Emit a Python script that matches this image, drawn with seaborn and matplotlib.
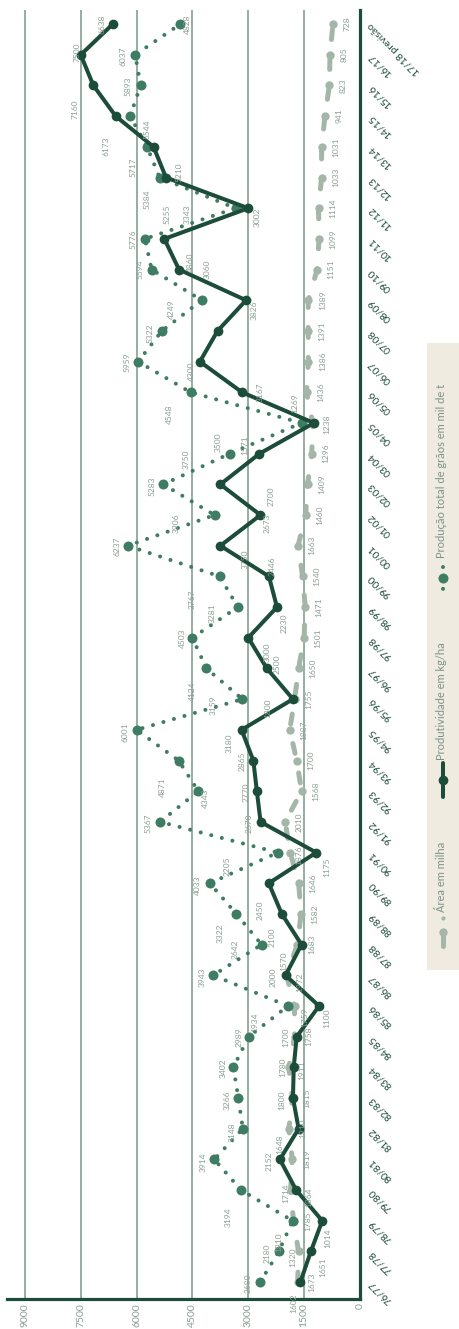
import matplotlib
matplotlib.use("Agg")
import matplotlib.pyplot as plt
from matplotlib.lines import Line2D
from matplotlib.patches import Rectangle
import seaborn as sns
import pandas as pd

# ---------------- data ----------------
categories = ['76/77', '77/78', '78/79', '79/80', '80/81', '81/82', '82/83', '83/84',
              '84/85', '85/86', '86/87', '87/88', '88/89', '89/90', '90/91', '91/92',
              '92/93', '93/94', '94/95', '95/96', '96/97', '97/98', '98/99', '99/00',
              '00/01', '01/02', '02/03', '03/04', '04/05', '05/06', '06/07', '07/08',
              '08/09', '09/10', '10/11', '11/12', '12/13', '13/14', '14/15', '15/16',
              '16/17', '17/18 previsão']

area = [1673, 1651, 1785, 1864, 1819, 1910, 1815, 1911, 1758, 1759, 1972, 1683, 1582, 1646,
        1876, 2010, 1568, 1700, 1887, 1755, 1650, 1501, 1471, 1540, 1663, 1460, 1409, 1296,
        1269, 1436, 1386, 1391, 1389, 1151, 1099, 1114, 1033, 1031, 941, 823, 805, 728]

productivity = [1602, 1320, 1014, 1714, 2152, 1648, 1800, 1780, 1700, 1100, 2000, 1570, 2100,
                2450, 1175, 2670, 2770, 2865, 3180, 1800, 2500, 3000, 2230, 2446, 3750, 2673,
                3750, 2700, 1238, 3167, 4300, 3826, 3060, 4860, 5255, 3002, 5210, 5544, 6560,
                7160, 7500, 6638]

production = [2680, 2180, 1810, 3194, 3914, 3148, 3266, 3402, 2989, 1934, 3943, 2642, 3322,
              4033, 2205, 5367, 4343, 4871, 6001, 3159, 4124, 4503, 3281, 3767, 6237, 3906,
              5283, 3500, 1571, 4548, 5959, 5322, 4249, 5594, 5776, 3343, 5384, 5717, 6173,
              5893, 6037, 4828]

value_ticks = [0, 1500, 3000, 4500, 6000, 7500, 9000]

legend_labels = ['Produção total de grãos em mil de t', 'Produtividade em kg/ha', 'Área em milha']

# ---------------- label placement (pixel offsets: right, down) ----------------
area_lbl_off = [(14, 0)] * len(categories)
for k, v in {28: (-18, -20), 14: (9, 3), 10: (13, 7), 9: (10, 11), 7: (13, 3),
             3: (18, 7), 1: (24, 16)}.items():
    area_lbl_off[k] = v

prodt_lbl_off = [(-7, 21), (-18, 6), (6, 17), (-10, 3), (-11, 2), (-19, 16), (-11, 2), (-11, 0),
                 (-11, 1), (8, 12), (-12, 2), (-18, 17), (-10, 23), (-9, 27), (11, 15), (-11, 1),
                 (-11, 1), (-11, 1), (-12, 13), (-25, 9), (10, -4), (19, 14), (7, 16), (3, -10),
                 (25, 14), (7, 8), (-34, -25), (12, 43), (13, 1), (18, 0), (-9, 10), (37, -21),
                 (-39, -31), (11, -7), (3, -25), (9, 9), (13, -5), (-6, -18), None, (-18, 24),
                 (-4, -3), (-11, 0)]

prodn_lbl_off = [(-12, 1), (-12, 2), (-14, 21), (-13, 27), (-11, 3), (-11, 4), (-11, 2), (-10, 1),
                 (-10, 1), (-33, 16), (-11, 2), (-26, 5), (-16, 19), (-12, 2), (-51, 14), (-12, 1),
                 (7, 7), (-16, 27), (-12, 2), (-29, 6), (-14, 23), (-10, 0), (-26, 6), (-28, 23),
                 (-11, 1), (-38, 8), (-11, 2), (-12, -11), (-57, 22), (-21, 22), (-11, 1), (-12, 2),
                 (-30, 9), (-12, 0), (-12, 0), (-48, 6), (-12, 22), (-14, 20), (-24, 30), (-12, 1),
                 (-12, 1), (7, 0)]

# ---------------- styles ----------------
DARK = '#1c4c3a'
MED = '#3e7c63'
LIGHT = '#a3b6a7'
GRID = '#8ea89b'
LBL = '#8a9f93'
LEG_BG = '#efebe0'
LEG_TXT = '#7b9386'

sns.set_theme(style='white')
plt.rcParams['font.family'] = ['Lato', 'DejaVu Sans']

W, H = 460, 1329
fig = plt.figure(figsize=(W / 100, H / 100), dpi=100)
fig.patch.set_facecolor('white')
ax = fig.add_axes([7 / W, 30 / H, 353 / W, 1289 / H])
ax.set_facecolor('white')

idx = list(range(len(categories)))
df = pd.DataFrame({'idx': idx, 'area': area, 'prodt': productivity, 'prodn': production})

# area: light dashed "pin" line
sns.lineplot(data=df, x='area', y='idx', orient='y', sort=False, estimator=None, ax=ax,
             color=LIGHT, lw=3.6, linestyle=(0, (2.0, 4.0)), dash_capstyle='round',
             marker='o', markersize=6.0, markeredgewidth=0, zorder=3)
# production: medium dotted
sns.lineplot(data=df, x='prodn', y='idx', orient='y', sort=False, estimator=None, ax=ax,
             color=MED, lw=2.9, linestyle=(0, (0.01, 2.7)), dash_capstyle='round',
             marker='o', markersize=7.2, markeredgewidth=0, zorder=4)
# productivity: dark solid
sns.lineplot(data=df, x='prodt', y='idx', orient='y', sort=False, estimator=None, ax=ax,
             color=DARK, lw=2.9, marker='o', markersize=7.0, markeredgewidth=0, zorder=5)

# value labels
for series, offs in ((area, area_lbl_off), (productivity, prodt_lbl_off), (production, prodn_lbl_off)):
    for i, (v, off) in enumerate(zip(series, offs)):
        if off is None:
            continue
        ax.annotate(str(v), xy=(v, i), xytext=(off[0], -off[1]), textcoords='offset pixels',
                    rotation=90, ha='center', va='center', fontsize=6, color=LBL, zorder=6)

# axes
ax.set_xlim(9480, 0)
ax.set_ylim(-0.55, len(categories) - 1 + 0.46)
ax.set_xticks(value_ticks)
ax.set_xticklabels([str(t) for t in value_ticks], rotation=90, fontsize=7.5, color=LBL)
ax.tick_params(axis='x', length=0, pad=3)
ax.set_xlabel('')
ax.set_ylabel('')
ax.grid(axis='x', color=GRID, lw=1.3)
ax.grid(axis='y', visible=False)
ax.set_axisbelow(True)

ax.yaxis.tick_right()
ax.set_yticks(idx)
ax.set_yticklabels(categories, fontsize=7.5, color=DARK)
ax.tick_params(axis='y', length=0, pad=7)
for t in ax.get_yticklabels():
    t.set_rotation(135)
    t.set_rotation_mode('anchor')
    t.set_ha('right')
    t.set_va('center')

for s in ('left', 'top'):
    ax.spines[s].set_visible(False)
for s in ('right', 'bottom'):
    ax.spines[s].set_color(DARK)
    ax.spines[s].set_linewidth(2.3)

# ---------------- legend (vertical) ----------------
def fx(x):
    return x / W


def fy(y):
    return (H - y) / H


fig.patches.append(Rectangle((fx(427), fy(970)), fx(460) - fx(427), fy(343) - fy(970),
                             transform=fig.transFigure, facecolor=LEG_BG, edgecolor='none',
                             zorder=0))
lx = 443
# production item
fig.lines.append(Line2D([fx(lx)] * 3, [fy(567), fy(578), fy(593)], transform=fig.transFigure,
                        color=MED, lw=2.9, linestyle=(0, (0.01, 2.7)), dash_capstyle='round',
                        marker='o', markersize=7.2, markevery=[1], markeredgewidth=0))
fig.text(fx(442), fy(558), legend_labels[0], rotation=90, ha='center', va='bottom',
         fontsize=8, color=LEG_TXT)
# productivity item
fig.lines.append(Line2D([fx(lx)] * 3, [fy(763), fy(780), fy(797)], transform=fig.transFigure,
                        color=DARK, lw=2.9, marker='o', markersize=7.0, markevery=[1],
                        markeredgewidth=0, solid_capstyle='round'))
fig.text(fx(442), fy(760), legend_labels[1], rotation=90, ha='center', va='bottom',
         fontsize=8, color=LEG_TXT)
# area item
fig.lines.append(Line2D([fx(lx)] * 2, [fy(932), fy(946)], transform=fig.transFigure,
                        color=LIGHT, lw=3.6, marker='o', markersize=6.0, markevery=[0],
                        markeredgewidth=0, solid_capstyle='round'))
fig.lines.append(Line2D([fx(lx)], [fy(918)], transform=fig.transFigure, color=LIGHT,
                        marker='o', markersize=3, markeredgewidth=0, lw=0))
fig.text(fx(442), fy(912), legend_labels[2], rotation=90, ha='center', va='bottom',
         fontsize=8, color=LEG_TXT)

fig.savefig('out.png', dpi=100, facecolor='white')
